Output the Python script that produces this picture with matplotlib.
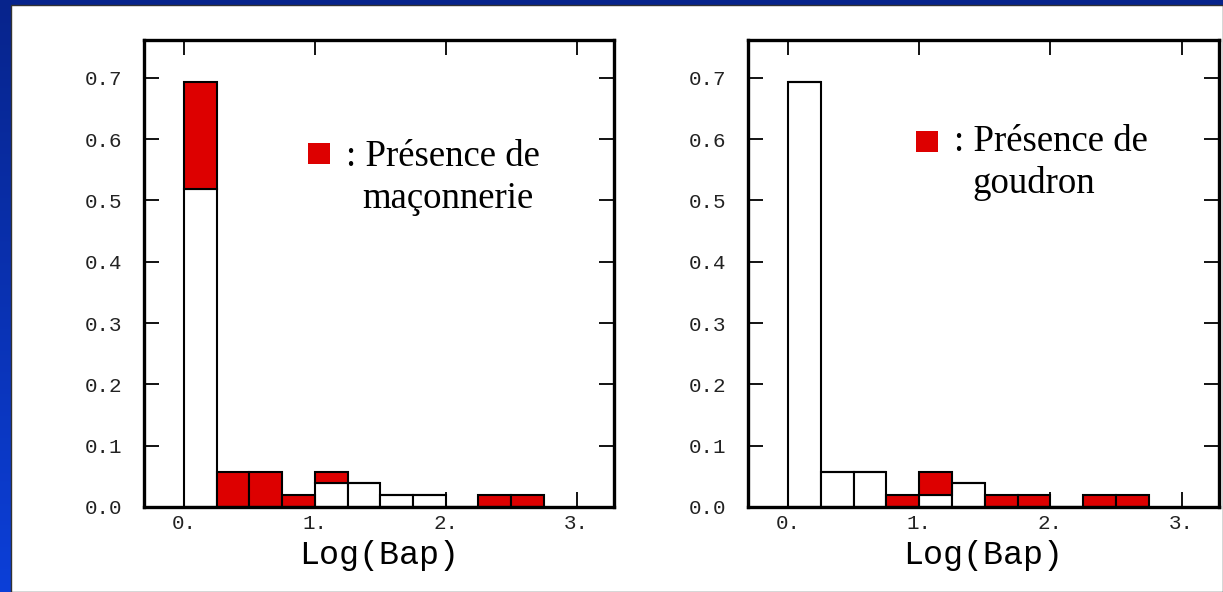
import numpy as np
import matplotlib.pyplot as plt
from matplotlib.patches import Rectangle
from matplotlib.colors import LinearSegmentedColormap

# Histogrammes de Log(Bap), classes de largeur 0.25, 52 échantillons
bin_edges = np.arange(0, 2.76, 0.25)[:-1]
n_total = 52

# maçonnerie : effectifs sans (blanc) / avec (rouge)
mac_sans = np.array([27, 0, 0, 0, 2, 2, 1, 1, 0, 0, 0])
mac_avec = np.array([9, 3, 3, 1, 1, 0, 0, 0, 0, 1, 1])

# goudron : effectifs sans (blanc) / avec (rouge)
gou_sans = np.array([36, 3, 3, 0, 1, 2, 0, 0, 0, 0, 0])
gou_avec = np.array([0, 0, 0, 1, 2, 0, 1, 1, 0, 1, 1])

y_ticks = [0.0, 0.1, 0.2, 0.3, 0.4, 0.5, 0.6, 0.7]
x_ticks = [0, 1, 2, 3]
x_labels = ['0.', '1.', '2.', '3.']

ROUGE = '#dd0000'
W, H = 1223, 592

fig = plt.figure(figsize=(W / 100, H / 100), dpi=100)

# fond bleu en dégradé + panneau blanc
bg = fig.add_axes([0, 0, 1, 1], zorder=-10)
grad = np.linspace(0, 1, 256).reshape(-1, 1)
cmap = LinearSegmentedColormap.from_list('fond', ['#07248c', '#0c3fd8'])
bg.imshow(grad, aspect='auto', cmap=cmap, extent=[0, 1, 0, 1], origin='upper')
bg.add_patch(Rectangle((11 / W, 0), 1 - 11 / W, 1 - 5 / H, transform=bg.transAxes,
                       facecolor='white', edgecolor='#333333', linewidth=1.0))
bg.set_xlim(0, 1)
bg.set_ylim(0, 1)
bg.axis('off')


def histo(ax, sans, avec, lignes, pos_carre, pos_txt, pos_txt2):
    fr_sans = sans / n_total
    fr_avec = avec / n_total
    ax.bar(bin_edges, fr_sans, width=0.25, align='edge', color='white',
           edgecolor='black', linewidth=1.5, zorder=2)
    ax.bar(bin_edges, fr_avec, width=0.25, align='edge', bottom=fr_sans,
           color=ROUGE, edgecolor='black', linewidth=1.5, zorder=2)
    ax.set_xlim(-0.305, 3.285)
    ax.set_ylim(0, 0.7615)
    ax.set_yticks(y_ticks)
    ax.set_yticklabels([f'{v:.1f}' for v in y_ticks], family='Liberation Mono', fontsize=15)
    ax.set_xticks(x_ticks)
    ax.set_xticklabels(x_labels, family='Liberation Mono', fontsize=15)
    ax.tick_params(direction='in', length=11, width=1.3, top=True, right=True,
                   pad=5, colors='black', labelcolor='#222222')
    ax.tick_params(axis='y', pad=16)
    for sp in ax.spines.values():
        sp.set_linewidth(2.4)
    ax.set_xlabel('Log(Bap)', family='Liberation Mono', fontsize=24, labelpad=5)
    # légende
    ax.add_patch(Rectangle(pos_carre, 22 / W, 21 / H, transform=fig.transFigure,
                           facecolor=ROUGE, edgecolor='none', clip_on=False))
    fig.text(pos_txt[0], pos_txt[1], lignes[0], family='Liberation Serif',
             fontsize=26.5, va='baseline')
    fig.text(pos_txt2[0], pos_txt2[1], lignes[1], family='Liberation Serif',
             fontsize=26.5, va='baseline')


ax1 = fig.add_axes([144 / W, 1 - 507 / H, 470 / W, 467 / H])
histo(ax1, mac_sans, mac_avec, [': Présence de', 'maçonnerie'],
      (308 / W, 1 - 164 / H), (346 / W, 1 - 166 / H), (362 / W, 1 - 208 / H))

ax2 = fig.add_axes([748 / W, 1 - 507 / H, 471 / W, 467 / H])
histo(ax2, gou_sans, gou_avec, [': Présence de', 'goudron'],
      (916 / W, 1 - 152 / H), (954 / W, 1 - 151 / H), (972 / W, 1 - 193 / H))

fig.savefig('out.png', dpi=100)
